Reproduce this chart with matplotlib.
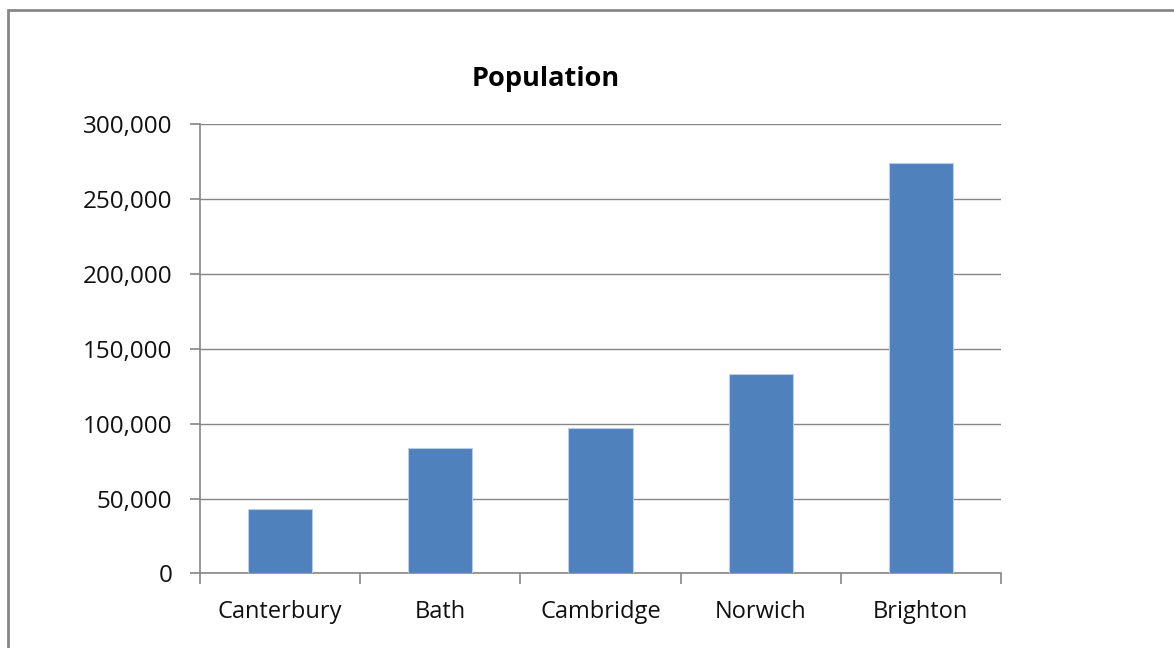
import matplotlib
matplotlib.use("Agg")
import matplotlib.pyplot as plt
from matplotlib.patches import Rectangle
from matplotlib.ticker import FuncFormatter, MultipleLocator, FixedLocator, NullFormatter

cities = ["Canterbury", "Bath", "Cambridge", "Norwich", "Brighton"]
population = [43000, 84000, 97000, 133000, 274000]
title = "Population"

plt.rcParams["font.family"] = ["Open Sans", "DejaVu Sans"]

fig = plt.figure(figsize=(11.74, 6.48), dpi=100)
ax = fig.add_axes([0.1704, 0.115, 0.8526 - 0.1704, 0.8086 - 0.115])

grid_col = "#868686"
bar_col = "#4F81BD"

x = list(range(len(cities)))
ax.bar(x, population, width=0.4, color=bar_col, edgecolor="#B9CDE5", linewidth=0.8, zorder=3)

ax.set_xlim(-0.5, len(cities) - 0.5)
ax.set_ylim(0, 300000)
ax.yaxis.set_major_locator(MultipleLocator(50000))
ax.yaxis.set_major_formatter(FuncFormatter(lambda v, p: f"{int(v):,}"))
ax.grid(axis="y", color=grid_col, linewidth=1.0, zorder=0)

# category labels centred on bars, tick marks between categories
ax.set_xticks(x)
ax.set_xticklabels(cities)
ax.tick_params(axis="x", which="major", length=0, pad=19, labelsize=17, labelcolor="#111111")
ax.xaxis.set_minor_locator(FixedLocator([i - 0.5 for i in range(len(cities) + 1)]))
ax.xaxis.set_minor_formatter(NullFormatter())
ax.tick_params(axis="x", which="minor", length=8, width=1.2, color=grid_col, direction="out")
ax.tick_params(axis="y", length=7, width=1.2, color=grid_col, direction="out", pad=13,
               labelsize=17.5, labelcolor="#111111")

for side in ("top", "right"):
    ax.spines[side].set_visible(False)
for side in ("left", "bottom"):
    ax.spines[side].set_color(grid_col)
    ax.spines[side].set_linewidth(1.2)

fig.text(546 / 1174, 1 - 79 / 648, title, ha="center", va="center",
         fontsize=19.5, fontweight="bold", color="#000000")

# chart frame
fig.patches.append(Rectangle((8 / 1174, -0.1), 1.2, 1 - 10 / 648 + 0.1,
                             transform=fig.transFigure, fill=False,
                             edgecolor="#868686", linewidth=2))

fig.savefig("out.png", dpi=100, facecolor="white")
